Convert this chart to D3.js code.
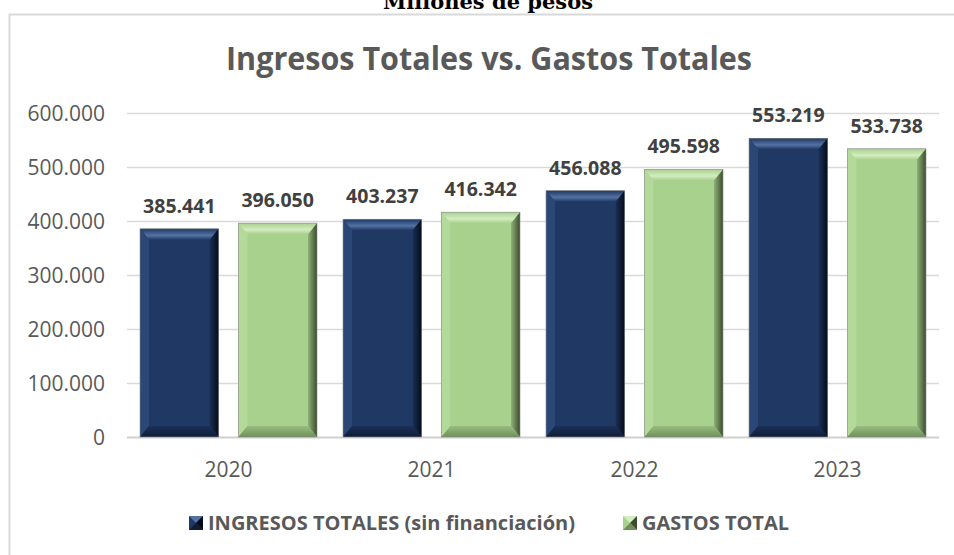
<!DOCTYPE html>
<html><head><meta charset="utf-8">
<script src="https://cdn.jsdelivr.net/npm/d3@7"></script>
<style>body{margin:0;background:#fff;} svg{display:block;}</style>
</head><body>
<svg id="c" width="954" height="555"></svg>
<script>
const years = ["2020","2021","2022","2023"];
const ingresos = [385441, 403237, 456088, 553219];
const gastos = [396050, 416342, 495598, 533738];
const seriesNames = ["INGRESOS TOTALES (sin financiación)", "GASTOS TOTAL"];
const yTicks = [0,100000,200000,300000,400000,500000,600000];
const title = "Ingresos Totales vs. Gastos Totales";
const topTitle = "Millones de pesos";

const svg = d3.select("#c");
const fmt = v => d3.format(",")(v).replace(/,/g, ".");

// chart border (only top/left visible)
svg.append("path").attr("d","M9.5,555 L9.5,14.5 L954,14.5").attr("fill","none").attr("stroke","#d9d9d9").attr("stroke-width",2);

svg.append("text").attr("x",488).attr("y",9).attr("text-anchor","middle")
  .attr("font-family","DejaVu Serif").attr("font-weight","bold").attr("font-size",21).attr("fill","#000").text(topTitle);

function fit(sel, w){ const l = sel.node().getComputedTextLength(); if (l > w) sel.attr("textLength", w).attr("lengthAdjust","spacingAndGlyphs"); }

const t = svg.append("text").attr("x",489).attr("y",70).attr("text-anchor","middle")
  .attr("font-family","Open Sans").attr("font-weight","bold").attr("font-size",33).attr("fill","#595959").text(title);
fit(t, 526);

const y = d3.scaleLinear().domain([0,600000]).range([437,113]);
const x0 = d3.scaleBand().domain(years).range([127,939]);
const x1 = d3.scaleBand().domain([0,1]).range([13,190]).paddingInner(0.2);

// grid
svg.append("g").selectAll("line").data(yTicks).join("line")
  .attr("x1",127).attr("x2",939).attr("y1",d=>Math.round(y(d))+0.5).attr("y2",d=>Math.round(y(d))+0.5)
  .attr("stroke",d=>d===0?"#d0d0d0":"#d9d9d9").attr("stroke-width",d=>d===0?2:1.3);

svg.append("g").selectAll("text").data(yTicks).join("text")
  .attr("x",105).attr("y",d=>y(d)).attr("dy","0.36em").attr("text-anchor","end")
  .attr("font-family","Open Sans").attr("font-size",21).attr("fill","#595959").text(d=>fmt(d));

svg.append("g").selectAll("text").data(years).join("text")
  .attr("x",d=>x0(d)+x0.bandwidth()/2).attr("y",477).attr("text-anchor","middle")
  .attr("font-family","Open Sans").attr("font-size",21).attr("fill","#595959").text(d=>d);

// gradients
const defs = svg.append("defs");
const pal = [
  {base:"#203864", top:"#5373a3", left:"#2a4776", right0:"#1a2f55", right1:"#050c18", bot0:"#1b3059", bot1:"#0f1c36"},
  {base:"#a9d18e", top:"#d3ecc1", left:"#b4da9b", right0:"#8fb177", right1:"#3a4d2e", bot0:"#98bd80", bot1:"#6f8f5b"}
];
pal.forEach((p,i)=>{
  const gr = defs.append("linearGradient").attr("id","r"+i).attr("x1",0).attr("x2",1).attr("y1",0).attr("y2",0);
  gr.append("stop").attr("offset",0).attr("stop-color",p.right0);
  gr.append("stop").attr("offset",1).attr("stop-color",p.right1);
  const gb = defs.append("linearGradient").attr("id","b"+i).attr("x1",0).attr("x2",0).attr("y1",0).attr("y2",1);
  gb.append("stop").attr("offset",0).attr("stop-color",p.bot0);
  gb.append("stop").attr("offset",1).attr("stop-color",p.bot1);
  const gt = defs.append("linearGradient").attr("id","t"+i).attr("x1",0).attr("x2",0).attr("y1",0).attr("y2",1);
  gt.append("stop").attr("offset",0).attr("stop-color",p.base);
  gt.append("stop").attr("offset",0.6).attr("stop-color",p.top);
  gt.append("stop").attr("offset",1).attr("stop-color",p.base);
});

const data = [];
years.forEach((yr,i)=>{ data.push({yr,s:0,v:ingresos[i]}); data.push({yr,s:1,v:gastos[i]}); });

const bw = x1.bandwidth();
const bv = 9, bh = 11;
const bars = svg.append("g").selectAll("g").data(data).join("g");
bars.each(function(d){
  const g = d3.select(this);
  const xl = x0(d.yr)+x1(d.s), xr = xl+bw, yt = y(d.v), yb = y(0);
  const p = pal[d.s];
  g.append("rect").attr("x",xl).attr("y",yt).attr("width",bw).attr("height",yb-yt).attr("fill",p.base);
  g.append("polygon").attr("points",[[xl,yt],[xr,yt],[xr-bv,yt+bh],[xl+bv,yt+bh]].join(" ")).attr("fill",`url(#t${d.s})`);
  g.append("polygon").attr("points",[[xl,yt],[xl+bv,yt+bh],[xl+bv,yb-bh],[xl,yb]].join(" ")).attr("fill",p.left);
  g.append("polygon").attr("points",[[xr,yt],[xr,yb],[xr-bv,yb-bh],[xr-bv,yt+bh]].join(" ")).attr("fill",`url(#r${d.s})`);
  g.append("polygon").attr("points",[[xl,yb],[xr,yb],[xr-bv,yb-bh],[xl+bv,yb-bh]].join(" ")).attr("fill",`url(#b${d.s})`);
  g.append("rect").attr("x",xl).attr("y",yt).attr("width",bw).attr("height",yb-yt).attr("fill","none").attr("stroke","#8c8c8c").attr("stroke-width",0.6);
  g.append("text").attr("x",(xl+xr)/2).attr("y",yt-16).attr("text-anchor","middle")
    .attr("font-family","Open Sans").attr("font-weight","bold").attr("font-size",19.5).attr("fill","#404040").text(fmt(d.v));
});

// legend
const legX = [189, 623];
const legW = [369, 147];
seriesNames.forEach((n,i)=>{
  const p = pal[i];
  const lx = legX[i], ly = 516, s = 14;
  svg.append("rect").attr("x",lx).attr("y",ly).attr("width",s).attr("height",s).attr("fill",p.base);
  svg.append("polygon").attr("points",[[lx,ly],[lx+s,ly],[lx+s/2,ly+s/2]].join(" ")).attr("fill",p.top);
  svg.append("polygon").attr("points",[[lx+s,ly],[lx+s,ly+s],[lx+s/2,ly+s/2]].join(" ")).attr("fill",p.right1);
  svg.append("polygon").attr("points",[[lx,ly+s],[lx+s,ly+s],[lx+s/2,ly+s/2]].join(" ")).attr("fill",p.bot1);
  const tt = svg.append("text").attr("x",lx+19).attr("y",530).attr("font-family","Open Sans").attr("font-weight","bold")
    .attr("font-size",20).attr("fill","#595959").text(n);
  fit(tt, legW[i]);
});
</script>
</body></html>
